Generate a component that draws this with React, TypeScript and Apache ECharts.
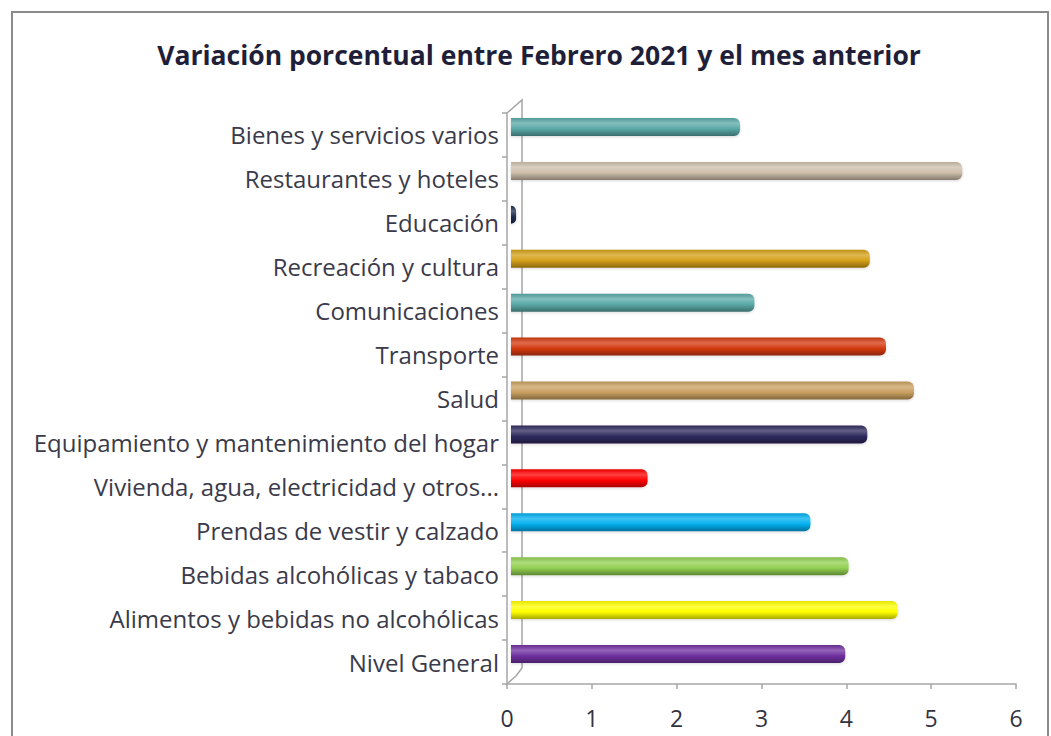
import React, { useEffect, useRef } from "react";
import * as echarts from "echarts";

const categories = [
  "Nivel General",
  "Alimentos y bebidas no alcohólicas",
  "Bebidas alcohólicas y tabaco",
  "Prendas de vestir y calzado",
  "Vivienda, agua, electricidad y otros...",
  "Equipamiento y mantenimiento del hogar",
  "Salud",
  "Transporte",
  "Comunicaciones",
  "Recreación y cultura",
  "Educación",
  "Restaurantes y hoteles",
  "Bienes y servicios varios",
];

const values = [3.94, 4.56, 3.98, 3.53, 1.61, 4.2, 4.75, 4.42, 2.87, 4.23, 0.06, 5.32, 2.7];

const barColors = [
  "#7030a0",
  "#ffff00",
  "#92d050",
  "#00b0f0",
  "#ff0000",
  "#2e2a5e",
  "#c9a060",
  "#d43a10",
  "#5aa9a8",
  "#d4a017",
  "#1f2d4f",
  "#cdbfab",
  "#5aa9a8",
];

const xTicks = [0, 1, 2, 3, 4, 5, 6];

const titleText = "Variación porcentual entre Febrero 2021 y el mes anterior";

function shade(hex: string, f: number): string {
  const n = parseInt(hex.slice(1), 16);
  let r = (n >> 16) & 255, g = (n >> 8) & 255, b = n & 255;
  if (f >= 0) {
    r = r + (255 - r) * f; g = g + (255 - g) * f; b = b + (255 - b) * f;
  } else {
    r = r * (1 + f); g = g * (1 + f); b = b * (1 + f);
  }
  const h = (v: number) => Math.round(Math.max(0, Math.min(255, v))).toString(16).padStart(2, "0");
  return "#" + h(r) + h(g) + h(b);
}

export default function App() {
  const ref = useRef<HTMLDivElement>(null);
  useEffect(() => {
    if (!ref.current) return;
    const chart = echarts.init(ref.current, undefined, { renderer: "svg" });
    const font = "'Open Sans', 'Noto Sans', sans-serif";
    const barData = values.map((v, i) => ({
      value: v,
      itemStyle: {
        color: new echarts.graphic.LinearGradient(0, 0, 0, 1, [
          { offset: 0, color: shade(barColors[i], -0.1) },
          { offset: 0.3, color: shade(barColors[i], 0.25) },
          { offset: 0.6, color: barColors[i] },
          { offset: 1, color: shade(barColors[i], -0.35) },
        ]),
        borderRadius: [0, 6, 6, 0],
      },
    }));
    const axisColor = "#a6a6a6";
    chart.setOption({
      animation: false,
      backgroundColor: "#ffffff",
      title: {
        text: titleText,
        left: 534,
        top: 36,
        textAlign: "center",
        textStyle: {
          fontFamily: font,
          fontSize: 26.5,
          fontWeight: "bold",
          color: "#1f1f3a",
        },
      },
      grid: [
        { left: 507, right: 35, top: 113, bottom: 52 },
        { left: 511, right: 31, top: 105, bottom: 60 },
      ],
      xAxis: [
        {
          gridIndex: 0,
          type: "value",
          min: 0,
          max: 6,
          interval: 1,
          axisLine: { show: true, lineStyle: { color: axisColor, width: 1.5 } },
          axisTick: { show: true, length: 5, lineStyle: { color: axisColor, width: 1.5 } },
          splitLine: { show: false },
          axisLabel: {
            margin: 22,
            fontFamily: font,
            fontSize: 23,
            color: "#333340",
            formatter: (v: number) => (xTicks.includes(v) ? String(v) : ""),
          },
        },
        {
          gridIndex: 1,
          type: "value",
          min: 0,
          max: 6,
          show: false,
        },
      ],
      yAxis: [
        {
          gridIndex: 0,
          type: "category",
          data: categories,
          axisLine: { show: true, lineStyle: { color: axisColor, width: 1.5 } },
          axisTick: { show: true, length: 5, lineStyle: { color: axisColor, width: 1.5 } },
          axisLabel: {
            margin: 8,
            fontFamily: font,
            fontSize: 24,
            color: "#3a3a4a",
          },
        },
        {
          gridIndex: 1,
          type: "category",
          data: categories,
          show: false,
        },
      ],
      graphic: [
        {
          type: "rect",
          shape: { x: 12, y: 12, width: 1036, height: 740 },
          style: { fill: "none", stroke: "#8a8a8a", lineWidth: 2 },
          silent: true,
        },
        {
          type: "polyline",
          shape: { points: [[507, 113], [522, 100], [522, 668], [516, 676], [507, 684]] },
          style: { fill: "none", stroke: axisColor, lineWidth: 1.5 },
          silent: true,
        },
      ],
      series: [
        {
          type: "bar",
          xAxisIndex: 1,
          yAxisIndex: 1,
          data: barData,
          barWidth: 18,
          itemStyle: {
            shadowColor: "rgba(0,0,0,0.15)",
            shadowBlur: 3,
            shadowOffsetY: 1,
          },
        },
      ],
    });
    return () => chart.dispose();
  }, []);
  return (
    <div
      ref={ref}
      style={{ position: "fixed", left: 0, top: 0, width: 1051, height: 736 }}
    />
  );
}
